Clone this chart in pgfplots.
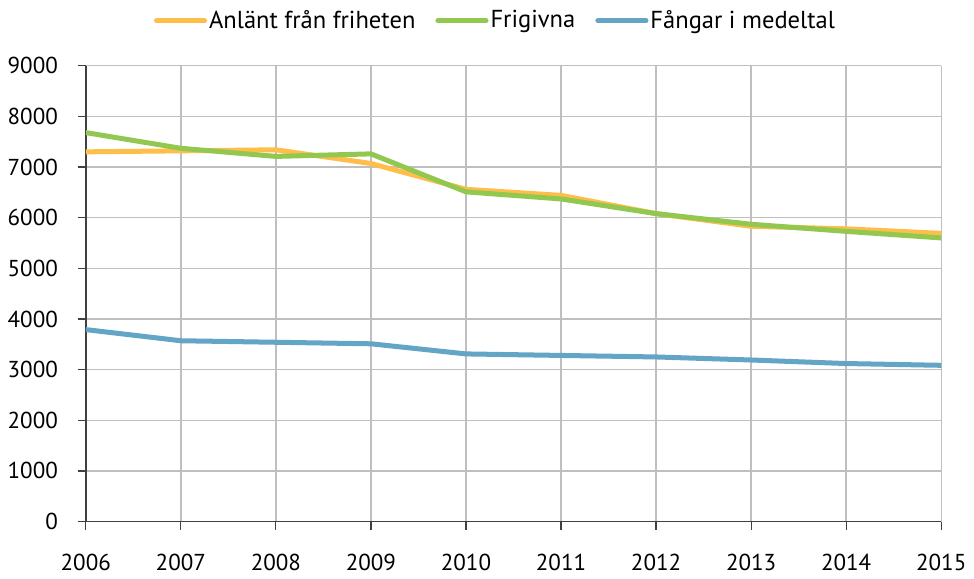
\documentclass[border={0pt 0pt 0pt 6pt}]{standalone}
\usepackage{fontspec}
\setmainfont{PT Sans}
\usepackage{pgfplots}
\pgfplotsset{compat=1.18}

\definecolor{cOrange}{RGB}{255,190,74}
\definecolor{cGreen}{RGB}{146,200,80}
\definecolor{cBlue}{RGB}{99,165,197}

\begin{document}
\fontsize{23}{27}\selectfont
\begin{tikzpicture}
\begin{axis}[
    scale only axis,
    width=854pt, height=455pt,
    xmin=2006, xmax=2015,
    ymin=0, ymax=9000,
    xtick={2006,2007,...,2015},
    ytick={0,1000,...,9000},
    axis lines=left,
    axis line style={-, black!75, line width=1.6pt},
    tick align=outside,
    major tick length=8pt,
    tick style={black!75, line width=1.2pt},
    grid=major,
    major grid style={black!25, line width=1.4pt},
    /pgf/number format/assume math mode=true,
    /pgf/number format/1000 sep={},
    ticklabel style={font=\fontsize{23}{27}\selectfont},
    xticklabel style={yshift=-17pt},
    yticklabel style={xshift=-12pt},
    legend style={at={(0.5,1)}, anchor=south, xshift=-18pt, yshift=30pt,
        draw=none, fill=none, font=\fontsize{24.5}{28}\selectfont,
        /tikz/every even column/.append style={column sep=18pt}},
    legend columns=3,
    legend image code/.code={\draw[#1, line cap=round] (0pt,0pt) -- (48pt,0pt);},
    every axis plot/.append style={line width=5pt, line join=round},
]
% Anlänt från friheten
\addplot[color=cOrange] coordinates {
    (2006,7300) (2007,7320) (2008,7340) (2009,7070) (2010,6560)
    (2011,6440) (2012,6080) (2013,5830) (2014,5780) (2015,5690)
};
% Frigivna
\addplot[color=cGreen] coordinates {
    (2006,7680) (2007,7370) (2008,7210) (2009,7260) (2010,6510)
    (2011,6370) (2012,6080) (2013,5870) (2014,5730) (2015,5600)
};
% Fångar i medeltal
\addplot[color=cBlue] coordinates {
    (2006,3790) (2007,3570) (2008,3540) (2009,3510) (2010,3310)
    (2011,3280) (2012,3250) (2013,3190) (2014,3120) (2015,3085)
};
\legend{Anlänt från friheten, Frigivna, Fångar i medeltal}
\end{axis}
\end{tikzpicture}
\end{document}
